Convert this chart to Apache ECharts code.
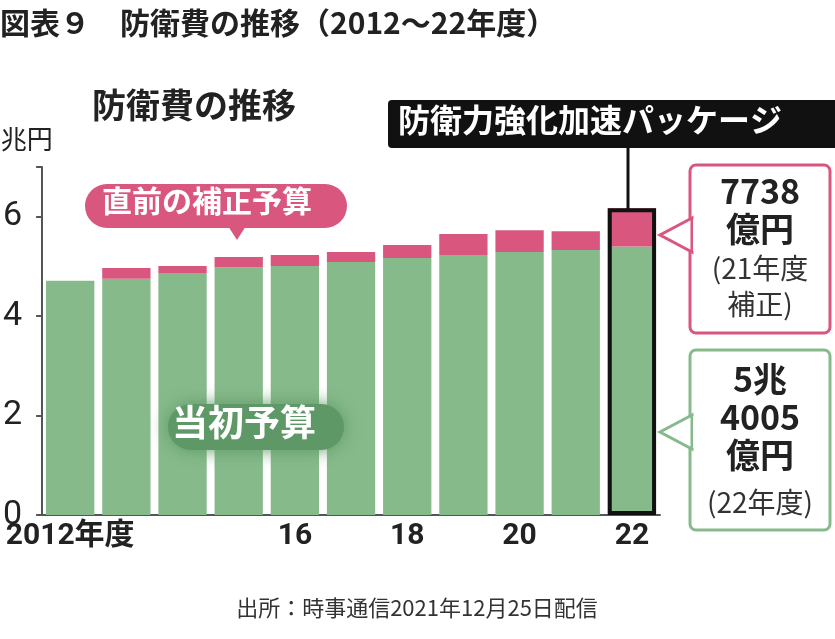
<!DOCTYPE html>
<html><head><meta charset="utf-8">
<script src="https://cdn.jsdelivr.net/npm/echarts@6/dist/echarts.min.js"></script>
<style>html,body{margin:0;background:#fff}#c{width:835px;height:639px}</style>
</head><body><div id="c"></div>
<script>
// values in 兆円
const years = ['2012', '2013', '2014', '2015', '2016', '2017', '2018', '2019', '2020', '2021', '2022'];
const tickNames = {'2012': '2012年度', '2016': '16', '2018': '18', '2020': '20', '2022': '22'};
const initial = [4.71, 4.75, 4.87, 4.98, 5.01, 5.09, 5.17, 5.23, 5.29, 5.33, 5.40];
const supplement = [0, 0.22, 0.14, 0.21, 0.22, 0.20, 0.26, 0.42, 0.44, 0.38, 0.77];

const green = '#87ba8b', pink = '#d9577f';
const font = '"Noto Sans CJK JP", sans-serif';
const outline = years.map((y, i) => y === '2022' ? initial[i] + supplement[i] : '-');

const chart = echarts.init(document.getElementById('c'));
chart.setOption({
  backgroundColor: '#fff',
  textStyle: {fontFamily: font},
  grid: {left: 42, right: 175, top: 167, bottom: 124},
  xAxis: {
    type: 'category', data: years,
    axisLine: {lineStyle: {color: '#555', width: 2}},
    axisTick: {show: false},
    axisLabel: {
      interval: 0, color: '#222', fontSize: 30, fontWeight: 'bold', margin: 6,
      fontFamily: 'Roboto, ' + font,
      formatter: v => tickNames[v] || ''
    }
  },
  yAxis: {
    type: 'value', min: 0, max: 7, interval: 2,
    axisLine: {show: true, lineStyle: {color: '#555', width: 2}},
    axisTick: {show: true, length: 6, lineStyle: {color: '#555', width: 2}},
    splitLine: {show: false},
    axisLabel: {
      color: '#222', fontSize: 34, margin: 20, fontFamily: 'Roboto, sans-serif',
      formatter: v => v === 7 ? '' : v
    }
  },
  series: [
    {type: 'bar', stack: 't', data: initial, barCategoryGap: '14%',
     itemStyle: {color: green}},
    {type: 'bar', stack: 't', data: supplement, itemStyle: {color: pink}},
    {type: 'bar', data: outline, barGap: '-100%', z: 5,
     itemStyle: {color: 'rgba(0,0,0,0)', borderColor: '#111', borderWidth: 4}}
  ],
  graphic: {elements: [
    {type: 'text', x: 0, y: 8, style: {text: '図表９　防衛費の推移（2012～22年度）', font: 'bold 30px ' + font, fill: '#222'}},
    {type: 'text', x: 92, y: 88, style: {text: '防衛費の推移', font: 'bold 34px ' + font, fill: '#222'}},
    {type: 'text', x: -8, y: 126, style: {text: '(兆円', font: '26px ' + font, fill: '#222'}},
    // black label
    {type: 'rect', shape: {x: 388, y: 100, width: 450, height: 48, r: 4}, style: {fill: '#111'}},
    {type: 'text', x: 398, y: 104, style: {text: '防衛力強化加速パッケージ', font: 'bold 32px ' + font, fill: '#fff'}},
    {type: 'line', shape: {x1: 628, y1: 148, x2: 628, y2: 210}, style: {stroke: '#111', lineWidth: 3}},
    // pink pill
    {type: 'rect', shape: {x: 85, y: 184, width: 262, height: 44, r: 22}, style: {fill: pink}},
    {type: 'polygon', shape: {points: [[228, 226], [246, 226], [237, 240]]}, style: {fill: pink}},
    {type: 'text', x: 102, y: 186, style: {text: '直前の補正予算', font: 'bold 30px ' + font, fill: '#fff'}},
    // 当初予算 label
    {type: 'rect', shape: {x: 168, y: 404, width: 176, height: 46, r: 23}, style: {fill: '#5d9866', shadowBlur: 18, shadowColor: '#5d9866'}},
    {type: 'text', x: 172, y: 404, style: {text: '当初予算', font: 'bold 36px ' + font, fill: '#fff'}},
    // right callouts
    {type: 'rect', shape: {x: 690, y: 165, width: 140, height: 168, r: 6}, style: {fill: '#fff', stroke: pink, lineWidth: 3}},
    {type: 'polygon', shape: {points: [[692, 218], [660, 235], [692, 252]]}, style: {fill: '#fff', stroke: pink, lineWidth: 3}},
    {type: 'rect', shape: {x: 693, y: 219, width: 6, height: 32}, style: {fill: '#fff'}},
    {type: 'text', x: 760, y: 172, style: {text: '7738\n億円', font: 'bold 34px ' + font, fill: '#222', align: 'center', lineHeight: 38}},
    {type: 'text', x: 760, y: 250, style: {text: '(21年度\n補正)', font: '28px ' + font, fill: '#333', align: 'center', lineHeight: 36}},
    {type: 'rect', shape: {x: 690, y: 350, width: 140, height: 180, r: 6}, style: {fill: '#fff', stroke: green, lineWidth: 3}},
    {type: 'polygon', shape: {points: [[692, 415], [660, 432], [692, 449]]}, style: {fill: '#fff', stroke: green, lineWidth: 3}},
    {type: 'rect', shape: {x: 693, y: 416, width: 6, height: 32}, style: {fill: '#fff'}},
    {type: 'text', x: 760, y: 360, style: {text: '5兆\n4005\n億円', font: 'bold 34px ' + font, fill: '#222', align: 'center', lineHeight: 38}},
    {type: 'text', x: 760, y: 488, style: {text: '(22年度)', font: '28px ' + font, fill: '#333', align: 'center'}},
    {type: 'text', x: 417, y: 597, style: {text: '出所：時事通信2021年12月25日配信', font: '22px ' + font, fill: '#333', align: 'center'}}
  ].map(e => Object.assign({z: 100}, e))}
});
</script></body></html>
